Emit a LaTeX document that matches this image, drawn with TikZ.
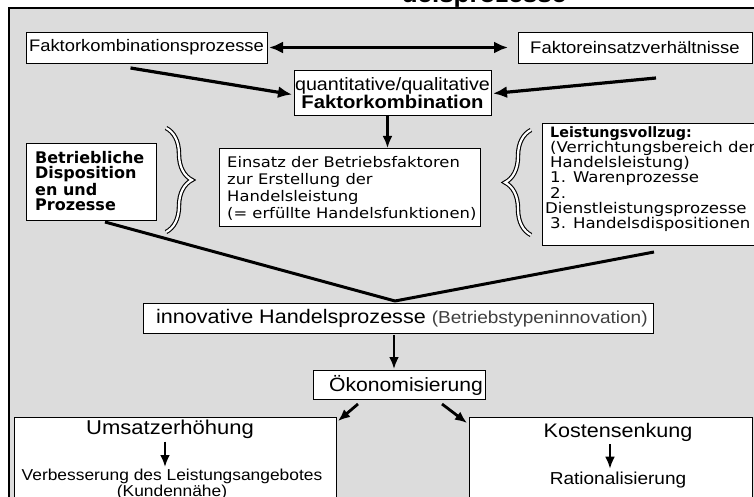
\documentclass[tikz,border=0pt]{standalone}
\usepackage{fontspec}
\usetikzlibrary{arrows.meta,decorations.pathreplacing,calc}
\newfontfamily\ar[FakeStretch=1.1]{Liberation Sans}
\newfontfamily\dv[FakeStretch=1.12]{DejaVu Sans}
\newfontfamily\dvn{DejaVu Sans}
\definecolor{panel}{HTML}{DCDCDC}
\begin{document}
\begin{tikzpicture}[x=1pt,y=-1pt,
  box/.style={draw=black,line width=0.8pt,fill=white,inner sep=0pt,outer sep=0pt,anchor=north west},
  txt/.style={inner sep=0pt,anchor=north west,align=left},
  bigarr/.style={line width=3.2pt,-{Latex[length=14pt,width=12pt]}},
  arr/.style={line width=2.8pt,-{Latex[length=12pt,width=10pt]}},
  smallarr/.style={line width=2.8pt,-{Latex[length=12pt,width=10pt]}},
  brc/.style={decorate,decoration={brace,amplitude=26pt,aspect=0.5}}]
\useasboundingbox (0,0) rectangle (754,497);
\fill[panel] (9,8) rectangle (770,520);
\draw[line width=1.4pt] (9,520) -- (9,8) -- (770,8);
\node[anchor=base,inner sep=0pt,font=\ar\bfseries\fontsize{23.6}{26}\selectfont] (ttl) at (484,3) {delsprozesse};

% boxes
\node[box,minimum width=241pt,minimum height=31pt] (A) at (26,32) {};
\node[box,minimum width=234pt,minimum height=31pt] (B) at (518,32) {};
\node[box,minimum width=197pt,minimum height=45pt] (C) at (294,70) {};
\node[box,minimum width=261pt,minimum height=78pt] (E) at (219,148) {};
\node[box,minimum width=130pt,minimum height=77pt] (D) at (26,143) {};
\node[box,minimum width=214pt,minimum height=122pt] (L) at (542,123) {};
\node[box,minimum width=510pt,minimum height=30pt] (I) at (143,303) {};
\node[box,minimum width=172pt,minimum height=29pt] (O) at (313,370) {};
\node[box,minimum width=322pt,minimum height=100pt] (U) at (14,417) {};
\node[box,minimum width=283pt,minimum height=100pt] (K) at (469,417) {};

% texts
\node[inner sep=0pt,font=\ar\fontsize{16.7}{18}\selectfont] (At) at (A.center) {Faktorkombinationsprozesse};
\node[inner sep=0pt,font=\ar\fontsize{16.8}{18}\selectfont] (Bt) at (B.center) {Faktoreinsatzverhältnisse};
\node[inner sep=0pt,align=center,font=\ar\fontsize{17.9}{17}\selectfont] (Ct) at ([yshift=-1pt]C.center)
  {quantitative/qualitative\\{\bfseries\fontsize{18.4}{17}\selectfont Faktorkombination}};
\node[txt,font=\dv\fontsize{14.6}{17}\selectfont] (Et) at (227,156)
  {Einsatz der Betriebsfaktoren\\zur Erstellung der\\Handelsleistung\\(= erfüllte Handelsfunktionen)};
\node[txt,font=\dvn\bfseries\fontsize{16}{15.2}\selectfont] (Dt) at (35,151)
  {Betriebliche\\Disposition\\en und\\Prozesse};
\node[txt,font=\dv\fontsize{14.8}{15.3}\selectfont] (Lt) at (550,126)
  {{\dvn\bfseries\fontsize{14.3}{15.3}\selectfont Leistungsvollzug:}\\(Verrichtungsbereich der\\Handelsleistung)\\1. Warenprozesse\\2.\\\hspace*{-5pt}Dienstleistungsprozesse\\3. Handelsdispositionen};
\node[inner sep=0pt,anchor=west,font=\ar\fontsize{19.6}{20}\selectfont] (It) at (156,318)
  {innovative Handelsprozesse {\color{black!75}\fontsize{17.3}{20}\selectfont(Betriebstypeninnovation)}};
\node[inner sep=0pt,anchor=west,font=\ar\fontsize{19.2}{20}\selectfont] (Ot) at (329,385) {Ökonomisierung};
\node[inner sep=0pt,font=\ar\fontsize{20}{20}\selectfont] (Ut) at (170,429) {Umsatzerhöhung};
\node[inner sep=0pt,align=center,anchor=north,font=\ar\fontsize{15.8}{16}\selectfont] (Vt) at (172,469)
  {Verbesserung des Leistungsangebotes\\(Kundennähe)};
\node[inner sep=0pt,font=\ar\fontsize{19.6}{20}\selectfont] (Kt) at (618,432) {Kostensenkung};
\node[inner sep=0pt,font=\ar\fontsize{17.3}{18}\selectfont] (Rt) at (618,480) {Rationalisierung};

% braces
\draw[brc,line width=4.4pt,black] (166,128) -- (166,232);
\draw[brc,line width=2.2pt,white] (166,128) -- (166,232);
\draw[brc,line width=4.4pt,black] (531,235) -- (531,130);
\draw[brc,line width=2.2pt,white] (531,235) -- (531,130);

% connectors
\draw[line width=3.2pt,{Latex[length=14pt,width=12pt]}-{Latex[length=14pt,width=12pt]}] ([xshift=2pt]A.east) -- ([xshift=-10pt]B.west);
\draw[bigarr] ([shift={(-16,5)}]A.south) -- ([xshift=-2pt,yshift=-2pt]C.west);
\draw[bigarr] ([shift={(21,15)}]B.south) -- ([xshift=2pt,yshift=-1pt]C.east);
\draw[arr] ([xshift=-5pt]C.south) -- ([xshift=-5pt]C.south |- E.north);
\coordinate (apex) at ([xshift=-3pt,yshift=2pt]I.north);
\draw[line width=3pt,line join=round] ([shift={(14,2)}]D.south) -- (apex) -- ([shift={(5,7)}]L.south);
\draw[arr] ([xshift=-4pt,yshift=-2pt]I.south) -- ([xshift=-5pt,yshift=1pt]O.north);
\draw[arr] ([shift={(-41,5)}]O.south) -- ([shift={(2,4)}]U.north east);
\draw[arr] ([shift={(43,5)}]O.south) -- ([shift={(-2,6)}]K.north west);
\draw[smallarr] ([xshift=-5pt,yshift=-3pt]Ut.south) -- ([xshift=-7pt,yshift=2pt]Vt.north);
\draw[smallarr] ([xshift=-8pt,yshift=-3pt]Kt.south) -- ([xshift=-8pt,yshift=3pt]Rt.north);
\end{tikzpicture}
\end{document}
